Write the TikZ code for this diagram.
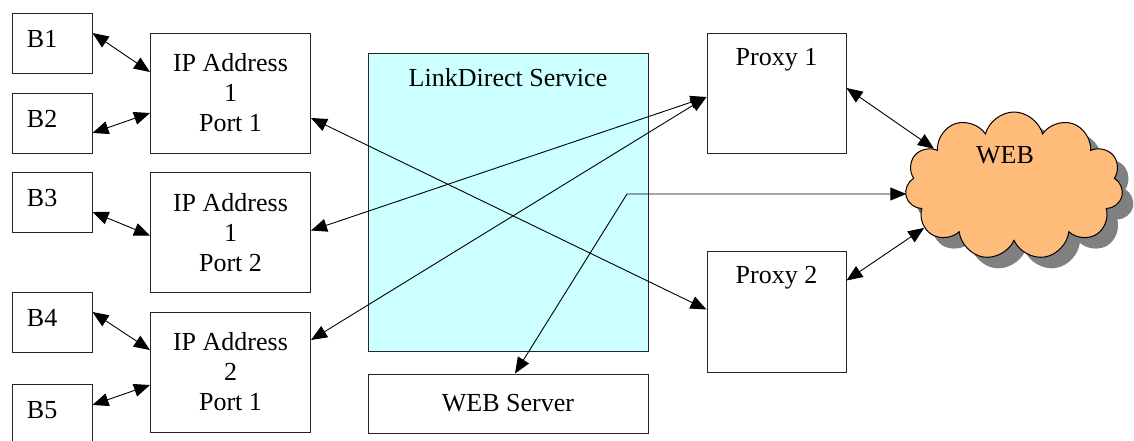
\documentclass[tikz,border=0pt]{standalone}
\usepackage{fontspec}
\setmainfont{Liberation Serif}
\usetikzlibrary{shapes.symbols,arrows.meta,shadows}
\definecolor{linkcyan}{HTML}{CCFFFF}
\definecolor{weborange}{HTML}{FFBB7A}

\begin{document}
\begin{tikzpicture}[x=1pt, y=-1pt,
  font=\fontsize{26}{30}\selectfont,
  box/.style={rectangle, draw=black!85, line width=1pt, inner sep=3pt},
  bbox/.style={box, minimum width=80pt, minimum height=60pt, text width=50pt, align=left, text depth=8pt},
  ipbox/.style={box, minimum width=160pt, minimum height=120pt, align=center},
  topbox/.style={box, label={[anchor=north, yshift=-12pt]north:#1}},
  arr/.style={{Triangle[length=16pt,width=13pt]}-{Triangle[length=16pt,width=13pt]}, line width=0.9pt}
]
  \useasboundingbox (0,0) rectangle (1134,440);

  % clients
  \node[bbox] (b1) at (52,43) {B1};
  \node[bbox] (b2) at (52,123) {B2};
  \node[bbox] (b3) at (52,202) {B3};
  \node[bbox] (b4) at (52,322) {B4};
  \node[bbox] (b5) at (52,414) {B5};

  % addresses
  \node[ipbox] (ip1) at (230.5,93) {IP Address\\1\\Port 1};
  \node[ipbox] (ip2) at (230.5,232.5) {IP Address\\1\\Port 2};
  \node[ipbox] (ip3) at (230.5,372) {IP Address\\2\\Port 1};

  % service and server
  \node[topbox=LinkDirect Service, fill=linkcyan, minimum width=280pt, minimum height=298pt] (link) at (508,202) {};
  \node[box, minimum width=280pt, minimum height=59pt] (ws) at (508,403.5) {WEB Server};

  % proxies
  \node[topbox=Proxy 1, minimum width=139pt, minimum height=120pt] (proxy1) at (776.5,93) {};
  \node[topbox=Proxy 2, minimum width=139pt, minimum height=121pt] (proxy2) at (776.5,311.5) {};

  % internet
  \node[cloud, draw=black, line width=1pt, fill=weborange, cloud puffs=11, aspect=1.47,
    minimum width=218pt, minimum height=148pt, inner sep=0pt,
    drop shadow={shadow xshift=11pt, shadow yshift=-11pt, fill=black!50, opacity=1},
    label={[anchor=center, xshift=-9pt, yshift=31pt]center:WEB}] (web) at (1014,186) {};

  \draw[arr] ([yshift=10pt]b1.east) -- ([yshift=21pt]ip1.west);
  \draw[arr] ([yshift=-10pt]b2.east) -- ([yshift=-20pt]ip1.west);
  \draw[arr] ([yshift=-10pt]b3.east) -- ([yshift=-3pt]ip2.west);
  \draw[arr] ([yshift=10pt]b4.east) -- ([yshift=22pt]ip3.west);
  \draw[arr] ([yshift=9pt]b5.east) -- ([yshift=-13pt]ip3.west);

  \draw[arr] ([yshift=-25pt]ip1.east) -- ([yshift=2pt]proxy2.west);
  \draw[arr] ([yshift=2pt]ip2.east) -- ([yshift=-4pt]proxy1.west);
  \draw[arr] ([yshift=32pt]ip3.east) -- ([yshift=-4pt]proxy1.west);

  \draw[arr] ([yshift=5pt]proxy1.east) -- (web.155);
  \draw[arr] ([yshift=31pt]proxy2.east) -- (web.205);

  \coordinate (turn) at (627,194);
  \draw[arr] ([xshift=7pt]ws.north) -- (turn) -- (turn -| web.west);
\end{tikzpicture}
\end{document}
